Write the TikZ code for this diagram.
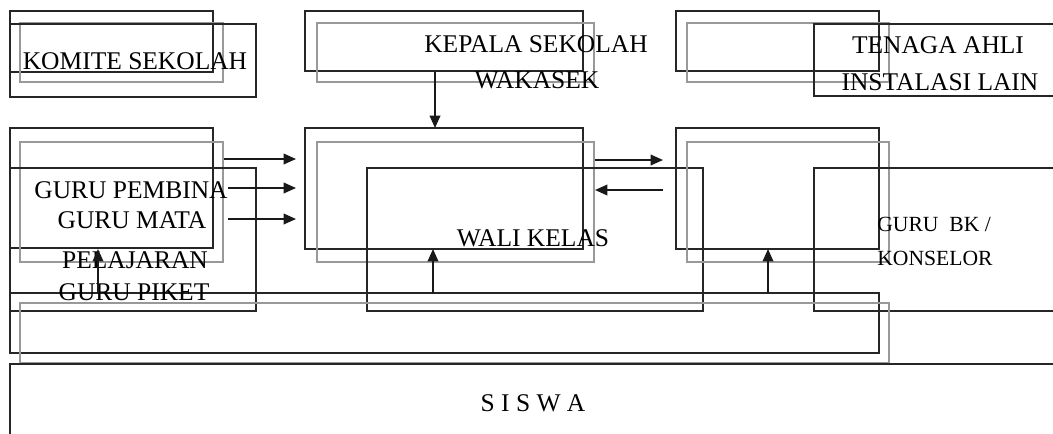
\documentclass[tikz,border=0pt]{standalone}
\usepackage{fontspec}
\setmainfont{Liberation Serif}
\usetikzlibrary{arrows.meta}
\begin{document}
\begin{tikzpicture}[x=0.02cm, y=-0.02cm, line join=miter, >={Triangle[length=7pt,width=6pt]},
	hitam/.style={draw=black!85, line width=1.1pt},
	abu/.style={draw=black!40, line width=0.7pt},
	panah/.style={->, draw=black!90, line width=1pt},
	teks/.style={inner sep=0pt, font=\fontsize{14.5}{17}\selectfont},
	teksbk/.style={inner sep=0pt, anchor=west, font=\fontsize{12.3}{15}\selectfont}]
	\useasboundingbox (0,0) rectangle (1053,433);
	\clip (0,0) rectangle (1053,433);
	% Baris atas
	\draw[hitam] (10,11) rectangle (213,72);
	\draw[abu] (20,23) rectangle (223,82);
	\draw[hitam] (10,24) rectangle (256,97);
	\draw[hitam] (305,11) rectangle (583,71);
	\draw[abu] (317,23) rectangle (594,82);
	\draw[hitam] (676,11) rectangle (879,71);
	\draw[abu] (687,23) rectangle (889,82);
	\draw[hitam] (814,24) rectangle (1070,96);
	% Baris tengah
	\draw[hitam] (10,128) rectangle (213,248);
	\draw[abu] (20,142) rectangle (223,262);
	\draw[hitam] (10,168) rectangle (256,311);
	\draw[hitam] (305,128) rectangle (583,249);
	\draw[abu] (317,142) rectangle (594,262);
	\draw[hitam] (367,168) rectangle (703,311);
	\draw[hitam] (676,128) rectangle (879,249);
	\draw[abu] (687,142) rectangle (889,262);
	\draw[hitam] (814,168) rectangle (1070,311);
	% Baris bawah
	\draw[hitam] (10,293) rectangle (879,353);
	\draw[abu] (20,303) rectangle (889,363);
	\draw[hitam] (10,364) rectangle (1070,450);
	\draw[black!85, line width=1.6pt] (10,364) -- (1070,364);
	% Teks
	\node[teks] (komite) at (135,61) {KOMITE SEKOLAH};
	\node[teks] (kepsek) at (536,44) {KEPALA SEKOLAH};
	\node[teks] (wakasek) at (537,80) {WAKASEK};
	\node[teks] (tenaga) at (938,45) {TENAGA AHLI};
	\node[teks] (instalasi) at (940,82) {INSTALASI LAIN};
	\node[teks] (pembina) at (131,190) {GURU PEMBINA};
	\node[teks] (mapel) at (132,220) {GURU MATA};
	\node[teks] (pelajaran) at (135,260) {PELAJARAN};
	\node[teks] (piket) at (134,292) {GURU PIKET};
	\node[teks] (wali) at (533,238) {WALI KELAS};
	\node[teksbk] (bk) at (877,224) {GURU\ \ BK /};
	\node[teksbk] (konselor) at (877,258) {KONSELOR};
	\node[teks] (siswa) at (533,403) {S I S W A};
	% Titik ujung panah
	\coordinate (A1) at (435,72);
	\coordinate (A2) at (435,128);
	\coordinate (B1) at (224,159);
	\coordinate (B2) at (296,159);
	\coordinate (C1) at (228,188);
	\coordinate (C2) at (296,188);
	\coordinate (D1) at (228,219);
	\coordinate (D2) at (296,219);
	\coordinate (E1) at (595,160);
	\coordinate (E2) at (663,160);
	\coordinate (F1) at (663,190);
	\coordinate (F2) at (595,190);
	\coordinate (G1) at (98,293);
	\coordinate (G2) at (98,249);
	\coordinate (H1) at (433,293);
	\coordinate (H2) at (433,249);
	\coordinate (J1) at (768,293);
	\coordinate (J2) at (768,249);
	\draw[panah] (A1) -- (A2);
	\draw[panah] (B1) -- (B2);
	\draw[panah] (C1) -- (C2);
	\draw[panah] (D1) -- (D2);
	\draw[panah] (E1) -- (E2);
	\draw[panah] (F1) -- (F2);
	\draw[panah] (G1) -- (G2);
	\draw[panah] (H1) -- (H2);
	\draw[panah] (J1) -- (J2);
\end{tikzpicture}
\end{document}
